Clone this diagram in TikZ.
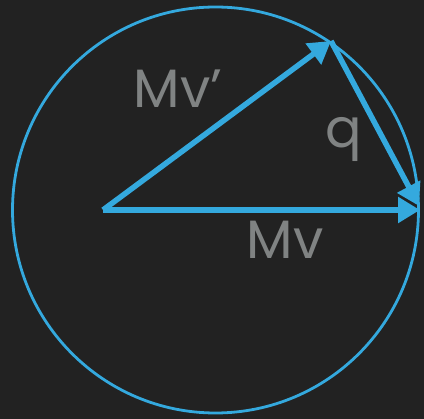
\documentclass[tikz,border=0pt]{standalone}
\usepackage{fontspec}
\setmainfont{Poppins}
\usepackage{tikz}
\usetikzlibrary{arrows.meta,positioning,calc}
\definecolor{vecblue}{RGB}{52,169,222}
\definecolor{vecgray}{RGB}{128,131,131}
\definecolor{vecbg}{RGB}{34,34,34}
\tikzset{
  ring/.style={draw=vecblue, line width=2.8pt},
  vec/.style={draw=vecblue, line width=5.5pt, -{Triangle[length=22pt,width=25pt]}},
  lbl/.style={text=vecgray, font=\fontsize{54}{54}\selectfont, anchor=base, inner sep=0pt}
}
\begin{document}
\begin{tikzpicture}[x=1pt, y=-1pt]
  \fill[vecbg] (0,0) rectangle (424,419);
  \useasboundingbox (0,0) rectangle (424,419);
  \coordinate (centre) at (215.5,210);
  \coordinate (origin) at (103,210);
  \coordinate (tipnew) at (331,41);
  \coordinate (tipold) at (420,210);
  \coordinate (tipq) at (419,206);
  \draw[ring] (centre) circle[radius=203];
  \draw[vec] (origin) -- (tipold);
  \draw[vec] (origin) -- (tipnew);
  \draw[vec] (tipnew) -- (tipq);
  \node[lbl] (mvnew) at (178,108) {Mv’};
  \node[lbl] (qlbl) at (344,148) {q};
  \node[lbl] (mvold) at (285,259) {Mv};
\end{tikzpicture}
\end{document}
